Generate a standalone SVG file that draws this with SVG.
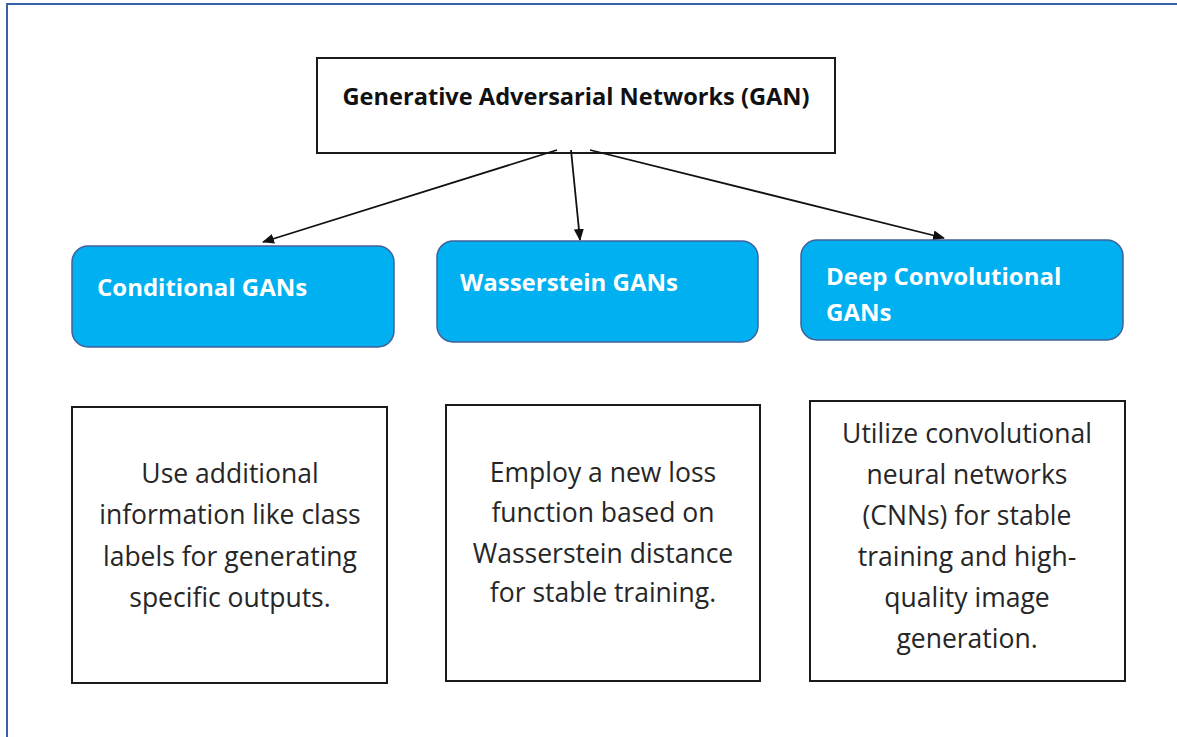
<svg xmlns="http://www.w3.org/2000/svg" width="1177" height="737" viewBox="0 0 1177 737">
<style>
.frame{stroke:#3A62A8;stroke-width:2;fill:none}
.box{fill:#fff;stroke:#1a1a1a;stroke-width:2}
.blue{fill:#00B0F0;stroke:#41609A;stroke-width:1.5}
.title{font-family:"Open Sans","Noto Sans",sans-serif;font-weight:bold;font-size:23.6px;fill:#111}
.btxt{font-family:"Open Sans","Noto Sans",sans-serif;font-weight:bold;font-size:24px;fill:#fff}
.body{font-family:"Open Sans","Noto Sans",sans-serif;font-size:26.5px;fill:#262626;text-anchor:middle}
.conn{stroke:#111;stroke-width:1.8;fill:none;marker-end:url(#ah)}
</style>
<defs>
<marker id="ah" viewBox="0 0 12 10" refX="11" refY="5" markerWidth="12" markerHeight="10" markerUnits="userSpaceOnUse" orient="auto">
<path d="M0,0 L12,5 L0,10 Z" fill="#111"/>
</marker>
</defs>
<rect width="1177" height="737" fill="#fff"/>
<path class="frame" d="M7,737 L7,4 L1177,4"/>
<g id="gan">
<rect class="box" x="317" y="58" width="518" height="95"/>
<text class="title" x="576" y="105" text-anchor="middle">Generative Adversarial Networks (GAN)</text>
</g>
<g id="connectors">
<line class="conn" x1="557" y1="150" x2="263" y2="242"/>
<line class="conn" x1="571" y1="150" x2="580" y2="240"/>
<line class="conn" x1="590" y1="150" x2="944" y2="238"/>
</g>
<g id="cgan">
<rect class="blue" x="72" y="246" width="322" height="101" rx="16"/>
<text class="btxt" x="97" y="296">Conditional GANs</text>
</g>
<g id="wgan">
<rect class="blue" x="437" y="241" width="321" height="101" rx="16"/>
<text class="btxt" x="460" y="291">Wasserstein GANs</text>
</g>
<g id="dcgan">
<rect class="blue" x="801" y="240" width="322" height="100" rx="16"/>
<text class="btxt" x="826" y="285">Deep Convolutional</text>
<text class="btxt" x="826" y="321">GANs</text>
</g>
<g id="cgan-desc">
<rect class="box" x="72" y="407" width="315" height="276"/>
<text class="body" x="230" y="483">Use additional</text>
<text class="body" x="230" y="524">information like class</text>
<text class="body" x="230" y="566">labels for generating</text>
<text class="body" x="230" y="607">specific outputs.</text>
</g>
<g id="wgan-desc">
<rect class="box" x="446" y="405" width="314" height="276"/>
<text class="body" x="603" y="482">Employ a new loss</text>
<text class="body" x="603" y="522">function based on</text>
<text class="body" x="603" y="563">Wasserstein distance</text>
<text class="body" x="603" y="602">for stable training.</text>
</g>
<g id="dcgan-desc">
<rect class="box" x="810" y="401" width="315" height="280"/>
<text class="body" x="967" y="443">Utilize convolutional</text>
<text class="body" x="967" y="484">neural networks</text>
<text class="body" x="967" y="525">(CNNs) for stable</text>
<text class="body" x="967" y="566">training and high-</text>
<text class="body" x="967" y="607">quality image</text>
<text class="body" x="967" y="648">generation.</text>
</g>
</svg>
